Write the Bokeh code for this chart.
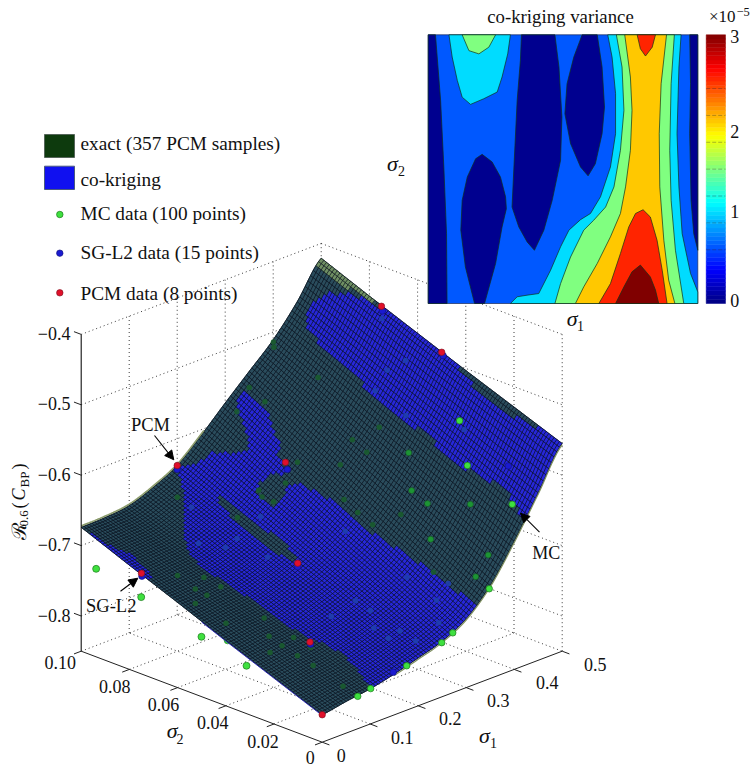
import math
import numpy as np
from bokeh.core.properties import value
from bokeh.embed import file_html
from bokeh.models import Arrow, NormalHead, Range1d
from bokeh.plotting import figure
from bokeh.resources import INLINE

# ---------- data ----------
SIGMA1_TICKS = [0, 0.1, 0.2, 0.3, 0.4, 0.5]
SIGMA1_LABELS = ["0", "0.1", "0.2", "0.3", "0.4", "0.5"]
SIGMA2_TICKS = [0, 0.02, 0.04, 0.06, 0.08, 0.10]
SIGMA2_LABELS = ["0", "0.02", "0.04", "0.06", "0.08", "0.10"]
Z_TICKS = [-0.4, -0.5, -0.6, -0.7, -0.8]
Z_LABELS = ["\u22120.4", "\u22120.5", "\u22120.6", "\u22120.7", "\u22120.8"]
Z_FLOOR = -0.85

SURF_S1 = [0, .05, .10, .15, .20, .25, .30, .35, .40, .45, .50]
SURF_S2 = [0, .02, .04, .06, .08, .10]
SURF_Z = [
    [-.811, -.784, -.757, -.729, -.702, -.674],
    [-.805, -.779, -.752, -.726, -.699, -.673],
    [-.800, -.774, -.748, -.721, -.695, -.669],
    [-.792, -.765, -.737, -.711, -.683, -.656],
    [-.782, -.753, -.724, -.696, -.667, -.638],
    [-.771, -.738, -.706, -.673, -.641, -.608],
    [-.752, -.717, -.682, -.646, -.611, -.575],
    [-.718, -.683, -.648, -.613, -.578, -.543],
    [-.668, -.636, -.605, -.574, -.542, -.511],
    [-.612, -.584, -.555, -.527, -.498, -.470],
    [-.555, -.529, -.503, -.476, -.449, -.421],
]

# where the co-kriging surface lies above the exact one (sigma1*1e3, sigma2*1e4)
BLUE_A = [(448,955),(461,955),(474,922),(488,853),(494,798),(498,748),(506,748),(506,498),(500,498),(498,438),(495,382),
          (491,353),(488,315),(489,213),(494,148),(494,98),(506,98),(506,-6),(420,-6),(421,2),(425,35),(431,78),(434,92),
          (428,208),(424,258),(422,372),(430,392),(424,470),(424,520),(422,598),(426,705),(426,808),(430,878),(436,930)]
BLUE_B = [(198,1006),(206,980),(224,952),(241,945),(255,902),(276,848),(286,882),(296,922),(308,972),(330,985),(326,920),
          (330,878),(318,838),(308,792),(294,768),(290,730),(283,722),(268,755),(251,762),(239,752),(236,720),(241,682),
          (258,678),(274,690),(285,672),(294,605),(301,510),(302,402),(309,305),(314,215),(318,115),(322,-6),(101,-6),
          (108,42),(114,78),(122,155),(115,222),(106,272),(100,372),(99,440),(96,558),(89,668),(95,742),(122,820),
          (161,888),(189,965)]
DARK_SLIVER = [(200,838),(206,818),(206,722),(209,615),(208,530),(199,500),(194,518),(188,602),(189,715),(194,808)]
BLUE_C = [(-6,1006),(0,1000),(10,885),(22,832),(12,730),(0,715),(-6,715)]
EXACT_TIP = [(506,1006),(485,1006),(485,1000),(491,985),(491,915),(492,838),(499,752),(506,752)]

MC_S1 = [.074,.101,.176,.249,.272,.348,.426,.428,.346,.372,.400,.371,.371,.400,.344,.458,0,0,0,0,0]
MC_S2 = [0,0,0,0,0,0,.0060,.0250,.0052,.0052,.0182,.0302,.0368,.0438,.0235,.0342,.0938,.0751,.0501,.0392,.0314]
MC_Z = [-.804,-.800,-.787,-.773,-.765,-.722,-.630,-.600,-.711,-.687,-.639,-.646,-.636,-.599,-.681,-.556,-.725,-.741,-.765,-.756,-.782]
MC_BEHIND = [False]*16 + [True]*5
MC_SHADED = [False]*8 + [True]*7 + [False]*6

DIM_S1 = [.316,.318,.342,.310,.309,.309,.339,.370,.071,.068,.045,.075,.080,.050,.021,.028,.084,.060,.090,.061,.036,.065,.094,
          .161,.244,.245,.274,.305,.398,.399,.401,.370,.335,.335,.302,.452,.428,.428,.454,.279,.288,.291,.209,.211,.162,.192,
          .194,.216,.221,.268,.120,.145,.168,.175,.218,.162,.471,.046,.195,.240,.394,.490]
DIM_S2 = [.0168,.0110,.0355,.0408,.0468,.0525,.0600,.0552,.0055,.0173,.0690,.0640,.0580,.0578,.0568,.0455,.0408,.0340,.0298,.0288,.0288,.0232,.0235,
          .0922,.0750,.0690,.0698,.0710,.0995,.0812,.0562,.0612,.0905,.0970,.0955,.0630,.0632,.0505,.0315,.0460,.0222,.0105,.0278,.0220,.0285,.0168,
          .0112,.0108,.0052,.0050,.0752,.0690,.0688,.0575,.0690,.0865,.0592,.0618,.0740,.0728,.0985,.0728]
DIM_Z = [-.712,-.721,-.661,-.674,-.664,-.653,-.621,-.605,-.796,-.781,-.714,-.718,-.725,-.729,-.732,-.747,-.748,-.759,-.763,-.766,-.769,-.774,-.770,
         -.663,-.652,-.661,-.643,-.623,-.513,-.540,-.579,-.595,-.570,-.558,-.582,-.520,-.543,-.562,-.564,-.682,-.719,-.737,-.739,-.746,-.750,-.759,
         -.767,-.762,-.770,-.756,-.696,-.700,-.693,-.707,-.675,-.670,-.506,-.724,-.677,-.658,-.518,-.469]

SG_S1 = [.152,.452,0,.290,.194,.195,.496,.498,.099]
SG_S2 = [.0008,.0128,.0748,.0722,.0488,.0990,.0738,.0490,.0245]
SG_Z = [-.791,-.591,-.711,-.631,-.714,-.641,-.461,-.493,-.768]

PCM_S1 = [0, 0, .2, .3, .2, .1, .5, .5]
PCM_S2 = [0, .075, .1, .075, .05, .025, .075, .05]
PCM_Z = [-.811, -.707, -.638, -.627, -.712, -.766, -.457, -.490]

# co-kriging variance: filled bands, in percent of each axis (sigma1, sigma2)
VAR_COLORS = {"navy": "#00008f", "blue": "#0058ff", "cyan": "#00dcff", "green": "#80ff80",
              "orange": "#ffc800", "red": "#ff2400", "dark": "#800000"}
VAR_BANDS = [
    ("navy", [(0,100),(2.7,100),(4.6,75.6),(5.8,50.8),(6.8,26),(7,0),(0,0)]),
    ("navy", [(34.6,100),(47,100),(48.5,88),(49.6,69.4),(49.1,53.3),(46,38.4),(42.9,27.3),(39.4,19.8),(36.7,22.9),(33.6,28.5),(31.1,35.9),(31.8,50.8),(33,75.6),(34.2,90.5)]),
    ("navy", [(20,55.5),(23.7,52.7),(26.8,47.1),(28.7,39.7),(29,35.3),(27.4,28.5),(25,14.9),(20.9,0),(17.2,0),(13.8,13.6),(12.1,27.3),(12.6,38.4),(14.5,47.1),(17.6,53.9)]),
    ("navy", [(57.1,100),(62.7,100),(64.5,88),(65.4,73.1),(64.5,63.2),(62,52),(59.3,47.5),(56.5,50.8),(52.8,59.5),(50.7,70.6),(51.5,81.8),(54,91.7)]),
    ("navy", [(97,100),(100,100),(100,19.8),(98.5,26),(97.5,38.4),(97,63.2),(97.3,81.8)]),
    ("cyan", [(7.7,100),(30.5,100),(29.5,92.9),(27.4,84.3),(25.6,78.7),(20.6,76.2),(15.7,74.1),(12.6,76.8),(10.8,83),(8.9,91.7)]),
    ("green", [(12.6,100),(25,100),(22.5,95.4),(18.8,92.9),(15.1,94.1)]),
    ("cyan", [(66.6,100),(68.2,91.7),(69.5,78.1),(69.5,63.2),(67.6,50.8),(63.9,39.7),(60.2,33.5),(56.5,31.2),(52.2,27.3),(49.1,21.1),(45.4,12.4),(41,3.7),(36.7,3.1),(33,2.5),(30.5,0),
              (100,0),(100,4.3),(97.3,11.2),(94.2,26),(93,43.4),(92.3,63.2),(93,88),(93.8,100)]),
    ("green", [(69.8,100),(71.9,88),(72.6,71.9),(71.3,57),(68.9,43.4),(65.8,35.9),(61.4,31),(57.7,27.3),(52.8,17.3),(49.1,7.4),(47,0),
               (94.8,0),(91.7,19.8),(90.1,38.4),(89.6,57),(90.1,81.8),(91.3,100)]),
    ("orange", [(72.9,100),(75,84.3),(75.6,71.9),(75,57),(73.2,43.4),(71.3,33.5),(67.6,24.8),(62.7,14.9),(57.7,6.2),(54.6,0),
                (91.5,0),(89.2,8.7),(87.4,23.5),(85.9,43.4),(85.7,63.2),(86.4,81.8),(88.4,100)]),
    ("red", [(77.5,100),(84.3,100),(83.1,95.4),(80.6,92.1),(78.7,94.8)]),
    ("red", [(79.7,34.9),(82.4,32.2),(84.9,23.5),(86.8,12.4),(88.6,0),(63.3,0),(67.6,7.4),(71.3,18.6),(74.4,28.5),(76.9,33.5)]),
    ("dark", [(78.7,14.3),(82.4,9.9),(84.3,5),(85.5,0),(69.5,0),(72.6,6.2),(75.6,11.8)]),
]
VAR_TICKS = [0.03, 1.03, 1.92, 2.98]
VAR_TICK_LABELS = ["0", "1", "2", "3"]
VAR_LEVEL_MARKS = [0.6, 0.9, 1.2, 1.5, 1.8, 2.1, 2.4]

LEGEND_LABELS = ["exact (357 PCM samples)", "co-kriging", "MC data (100 points)", "SG-L2 data (15 points)", "PCM data (8 points)"]

# ---------- page and projection ----------
SERIF = value("Liberation Serif")
W, H = 752, 769
p = figure(width=W, height=H, x_range=Range1d(0, W), y_range=Range1d(H, 0),
           output_backend="svg", toolbar_location=None, min_border=0)
p.axis.visible = False
p.grid.visible = False
p.outline_line_color = None
p.background_fill_color = "white"


def proj(s1, s2, z):
    s1, s2, z = np.asarray(s1, float), np.asarray(s2, float), np.asarray(z, float)
    return (321.7 + 480 * s1 - 2410 * s2,
            741.7 - 182 * s1 - 910 * s2 - 704 * (z - Z_FLOOR))


def text(x, y, s, size=18, align="center", base="middle", style="normal", angle=0, **kw):
    p.text(x=[x], y=[y], text=[s], text_font=SERIF, text_font_size=f"{size}px", text_align=align,
           text_baseline=base, text_font_style=style, angle=angle, text_color="#111111", **kw)


# ---------- box grid ----------
gx, gy = [], []
def seg(a, b):
    x, y = proj(*zip(a, b))
    gx.append(list(x)); gy.append(list(y))

for z in Z_TICKS:
    seg((0, .1, z), (.5, .1, z))
    seg((.5, .1, z), (.5, 0, z))
for s in SIGMA1_TICKS[1:-1]:
    seg((s, 0, Z_FLOOR), (s, .1, Z_FLOOR))
    seg((s, .1, Z_FLOOR), (s, .1, -.4))
for s in SIGMA2_TICKS[1:-1]:
    seg((0, s, Z_FLOOR), (.5, s, Z_FLOOR))
    seg((.5, s, Z_FLOOR), (.5, s, -.4))
seg((.5, .1, Z_FLOOR), (.5, .1, -.4))
seg((.5, 0, Z_FLOOR), (.5, 0, -.4))
seg((0, .1, Z_FLOOR), (.5, .1, Z_FLOOR))
seg((.5, .1, Z_FLOOR), (.5, 0, Z_FLOOR))
p.multi_line(gx, gy, line_color="#3a3a3a", line_width=1, line_dash="1 3")

# ---------- surface ----------
def catmull(xs, ys, q):
    xs, ys = np.asarray(xs), np.asarray(ys)
    i = np.clip(np.searchsorted(xs, q) - 1, 0, len(xs) - 2)
    t = (q - xs[i]) / (xs[i + 1] - xs[i])
    y0 = ys[np.maximum(i - 1, 0)]; y1 = ys[i]; y2 = ys[i + 1]; y3 = ys[np.minimum(i + 2, len(xs) - 1)]
    return 0.5 * (2 * y1 + (y2 - y0) * t + (2 * y0 - 5 * y1 + 4 * y2 - y3) * t ** 2 + (3 * y1 - y0 - 3 * y2 + y3) * t ** 3)


N = 90
m1 = np.linspace(0, .5, N + 1)
m2 = np.linspace(0, .1, N + 1)
table = np.array(SURF_Z)
by_s1 = np.array([catmull(SURF_S1, table[:, j], m1) for j in range(len(SURF_S2))])
mz = np.array([np.interp(m2, SURF_S2, by_s1[:, i]) for i in range(N + 1)])
A, B = np.meshgrid(m1, m2, indexing="ij")
MX, MY = proj(A, B, mz)


def inside(poly, a, b):
    pa = np.array([q[0] for q in poly]) * 1e-3
    pb = np.array([q[1] for q in poly]) * 1e-4
    res = np.zeros(np.shape(a), bool)
    for k in range(len(pa)):
        a0, b0, a1, b1 = pa[k], pb[k], pa[k - 1], pb[k - 1]
        cond = (b0 > b) != (b1 > b)
        with np.errstate(divide="ignore", invalid="ignore"):
            res ^= cond & (a < (a1 - a0) * (b - b0) / (b1 - b0 + 1e-15) + a0)
    return res


def classify(a, b):
    cls = np.zeros(np.shape(a), int)
    cls[inside(BLUE_A, a, b) | inside(BLUE_B, a, b) | inside(BLUE_C, a, b)] = 1
    cls[inside(DARK_SLIVER, a, b)] = 0
    cls[inside(EXACT_TIP, a, b)] = 2
    return cls


CA, CB = np.meshgrid((m1[:-1] + m1[1:]) / 2, (m2[:-1] + m2[1:]) / 2, indexing="ij")
cls = classify(CA, CB)
FILL = ["#2a4c5c", "#2727da", "#6f8f63"]

# silhouette beneath the strips
sx = np.r_[MX[:, 0], MX[-1, :], MX[::-1, -1], MX[0, ::-1]]
sy = np.r_[MY[:, 0], MY[-1, :], MY[::-1, -1], MY[0, ::-1]]
MCX, MCY = proj(MC_S1, MC_S2, MC_Z)
behind = np.array(MC_BEHIND)
shaded = np.array(MC_SHADED)
p.scatter(MCX[behind], MCY[behind], size=7, fill_color="#3fe03f", line_color="#1b7a1b", line_width=0.7)
p.patch(sx, sy, fill_color="#22363c", line_color="#22363c", line_width=0.6)

xs, ys, fc = [], [], []
for i in range(N):
    j = 0
    while j < N:
        k = j
        while k + 1 < N and cls[i, k + 1] == cls[i, j]:
            k += 1
        xs.append(list(np.r_[MX[i, j:k + 2], MX[i + 1, j:k + 2][::-1]]))
        ys.append(list(np.r_[MY[i, j:k + 2], MY[i + 1, j:k + 2][::-1]]))
        fc.append(FILL[cls[i, j]])
        j = k + 1
p.patches(xs, ys, fill_color=fc, line_color=fc, line_width=0.3)

lx = [list(MX[i, :]) for i in range(N + 1)] + [list(MX[:, j]) for j in range(N + 1)]
ly = [list(MY[i, :]) for i in range(N + 1)] + [list(MY[:, j]) for j in range(N + 1)]
p.multi_line(lx, ly, line_color="#08101c", line_width=0.85, line_alpha=0.85)

# pale rim of the exact surface where it stands just proud of the mesh
rim1 = m1 <= .26
x, y = proj(m1[rim1], np.full(rim1.sum(), .1), mz[rim1, -1] + .002)
p.line(x, y, line_color="#8b9c6c", line_width=1.6)
rim2 = m1 >= .15
x, y = proj(m1[rim2], np.zeros(rim2.sum()), mz[rim2, 0] - .002)
p.line(x, y, line_color="#7f9060", line_width=1.2)
rim3 = m2 <= .05
x, y = proj(np.zeros(rim3.sum()), m2[rim3], mz[0, rim3] - .001)
p.line(x, y, line_color="#2424b0", line_width=1.0)

# ---------- points ----------
dx, dy = proj(DIM_S1, DIM_S2, DIM_Z)
dcls = classify(np.array(DIM_S1), np.array(DIM_S2))
dcol = ["#1f3fae" if c == 1 else "#1a5c2e" for c in dcls]
p.scatter(dx, dy, size=5.5, fill_color=dcol, line_color=None, fill_alpha=0.9)
sgx, sgy = proj(SG_S1, SG_S2, SG_Z)
p.scatter(sgx, sgy, size=6.5, fill_color="#1a1ad0", line_color="#10107a", line_width=0.6)
vis = ~behind & ~shaded
p.scatter(MCX[vis], MCY[vis], size=6.5, fill_color="#3fe03f", line_color="#1b7a1b", line_width=0.7)
p.scatter(MCX[shaded], MCY[shaded], size=6, fill_color="#1d9434", line_color="#124d20", line_width=0.5)
px_, py_ = proj(PCM_S1, PCM_S2, PCM_Z)
p.scatter(px_, py_, size=6.5, fill_color="#e0102a", line_color="#7a1020", line_width=0.6)

# ---------- axes ----------
x, y = proj([0, 0], [.1, .1], [Z_FLOOR, -.4])
p.line(x, y, line_color="#111111", line_width=1.1)
x, y = proj([0, 0, .5], [.1, 0, 0], [Z_FLOOR] * 3)
p.line(x, y, line_color="#222222", line_width=1.0)
tx, ty = [], []
for z, lab in zip(Z_TICKS, Z_LABELS):
    a = proj([0, 0], [.1, .103], [z, z])
    tx.append(list(a[0])); ty.append(list(a[1]))
    text(70, float(a[1][0]) - 1, lab, align="right")
OFF1 = [(19, 13), (32, 13), (32, 13), (32, 13), (33, 13), (33, 13)]
for s, lab, o in zip(SIGMA1_TICKS, SIGMA1_LABELS, OFF1):
    a = proj([s, s], [0, -.003], [Z_FLOOR, Z_FLOOR])
    tx.append(list(a[0])); ty.append(list(a[1]))
    text(float(a[0][0]) + o[0], float(a[1][0]) + o[1], lab)
OFF2 = [(-12, 15), (-11, 17.5), (-13, 17), (-14, 17), (-14.6, 17), (-21, 11)]
for s, lab, o in zip(SIGMA2_TICKS, SIGMA2_LABELS, OFF2):
    a = proj([0, -.015], [s, s], [Z_FLOOR, Z_FLOOR])
    tx.append(list(a[0])); ty.append(list(a[1]))
    text(float(a[0][0]) + o[0], float(a[1][0]) + o[1], lab)
p.multi_line(tx, ty, line_color="#222222", line_width=1.0)

text(484, 735, "\u03c3", size=22, style="italic")
text(493, 742, "1", size=14)
text(171.7, 730, "\u03c3", size=22, style="italic")
text(179.5, 738, "2", size=14)

# z axis title, reading upward
UP = math.pi / 2
text(18.5, 539, "\u211b", size=20, align="left", base="alphabetic", angle=UP)
text(23.5, 526, "0.6", size=13, align="left", base="alphabetic", angle=UP)
text(18.5, 508, "(", size=18, align="left", base="alphabetic", angle=UP)
text(18.5, 500, "C", size=18, align="left", base="alphabetic", style="italic", angle=UP)
text(23.5, 487, "BP", size=13, align="left", base="alphabetic", angle=UP)
text(18.5, 469, ")", size=18, align="left", base="alphabetic", angle=UP)

# ---------- annotations ----------
for (x0, y0, x1, y1) in [(154, 435, 173.3, 459.3), (120, 590.7, 137.3, 577.7), (539, 531.7, 520, 512.7)]:
    p.add_layout(Arrow(end=NormalHead(size=9, fill_color="black", line_color="black"),
                       x_start=x0, y_start=y0, x_end=x1, y_end=y1, line_color="black", line_width=1.1))
text(150, 424.3, "PCM", size=18.5)
text(110.7, 605, "SG-L2", size=18.5)
text(545.7, 552.3, "MC", size=18)

# ---------- legend ----------
p.quad(left=[44, 44], right=[74, 74], top=[134, 165.7], bottom=[157, 189],
       fill_color=["#0d3a0d", "#1010f0"], line_color=["#55655a", "#4a5a80"], line_width=1)
for lab, yy in zip(LEGEND_LABELS, [143, 178.7, 213.3, 252, 293]):
    text(80, yy, lab, size=19.3, align="left")
p.scatter([59.3], [214], size=6.5, fill_color="#3fe03f", line_color="#1b7a1b", line_width=0.7)
p.scatter([59.3], [252.7], size=6.5, fill_color="#1a1ad0", line_color="#10107a", line_width=0.6)
p.scatter([59.3], [292.3], size=6.5, fill_color="#e0102a", line_color="#7a1020", line_width=0.6)

# ---------- inset ----------
LEFT, RIGHT, TOP, BOTTOM = 427.7, 697.3, 34.3, 303.0
kx = .5 / (RIGHT - LEFT)
ky = .1 / (BOTTOM - TOP)
kv = 3.0 / (BOTTOM - TOP)
p.extra_x_ranges["s1"] = Range1d((0 - LEFT) * kx, (W - LEFT) * kx)
p.extra_y_ranges["s2"] = Range1d((BOTTOM - H) * ky, BOTTOM * ky)
p.extra_y_ranges["var"] = Range1d((BOTTOM - H) * kv, BOTTOM * kv)

p.patch([0, .5, .5, 0], [0, 0, .1, .1], x_range_name="s1", y_range_name="s2",
        fill_color=VAR_COLORS["blue"], line_color="#1c2a55", line_width=0.7)
for name, poly in VAR_BANDS:
    p.patch([q[0] * .005 for q in poly], [q[1] * .001 for q in poly], x_range_name="s1", y_range_name="s2",
            fill_color=VAR_COLORS[name], line_color="#10301a", line_width=0.7)

def jet(t):
    f = lambda c: int(255 * min(1, max(0, 1.5 - abs(4 * t - c))))
    return "#%02x%02x%02x" % (f(3), f(2), f(1))

lev = np.linspace(0, 3, 65)
p.quad(left=705.7, right=725, bottom=lev[:-1], top=lev[1:], y_range_name="var",
       fill_color=[jet((i + .5) / 64) for i in range(64)], line_color=[jet((i + .5) / 64) for i in range(64)], line_width=0.5)
for v in VAR_LEVEL_MARKS:
    p.line([705.7, 725], [v, v], y_range_name="var", line_color="#333333", line_width=0.6, line_alpha=0.6, line_dash="4 2")
for v, lab in zip(VAR_TICKS, VAR_TICK_LABELS):
    p.text(x=[734.3], y=[v], y_range_name="var", text=[lab], text_font=SERIF, text_font_size="18px",
           text_align="center", text_baseline="middle", text_color="#111111")
text(560, 15.7, "co-kriging variance", size=18.8)
text(721.7, 15.7, "\u00d710", size=17)
text(742.7, 11, "\u22125", size=12.5)
text(571.7, 318, "\u03c3", size=22, style="italic")
text(580, 325, "1", size=14)
text(392, 163, "\u03c3", size=22, style="italic")
text(401, 170, "2", size=14)

open("out.html", "w").write(file_html(p, INLINE))
